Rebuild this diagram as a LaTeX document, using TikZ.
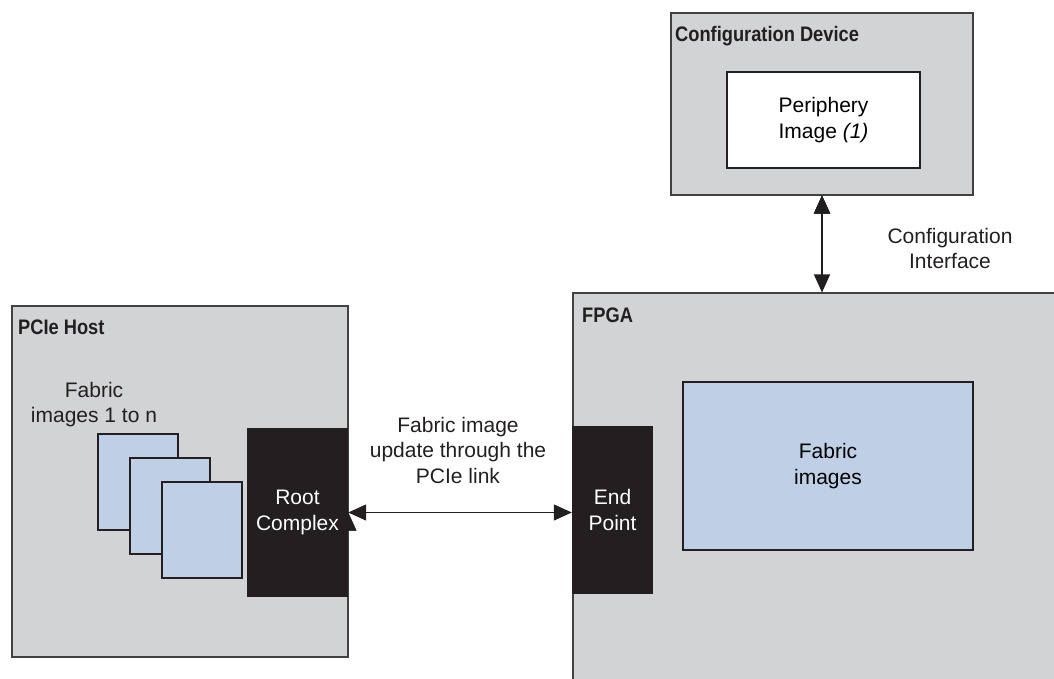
\documentclass[tikz,border=0pt]{standalone}
\usepackage{fontspec}
\setmainfont{Liberation Sans}
\newfontfamily\Htitle[FakeStretch=0.87]{Liberation Sans}
\usepackage{tikz}
\usetikzlibrary{arrows.meta,positioning}
\definecolor{boxgray}{HTML}{D1D3D4}
\definecolor{linegray}{HTML}{414042}
\definecolor{imgblue}{HTML}{BFD0E6}
\definecolor{inkblack}{HTML}{231F20}
\newcommand{\Tsize}{\fontsize{21}{25.5}\selectfont}
\tikzset{
  blk/.style={rectangle,draw=linegray,line width=1.1pt,fill=boxgray,inner sep=0pt},
  img/.style={rectangle,draw=inkblack,line width=1.1pt,fill=imgblue,inner sep=0pt,align=center},
  port/.style={rectangle,draw=none,fill=inkblack,text=white,inner sep=0pt,align=center},
  ttl/.style={anchor=base west,inner sep=0pt,font=\Htitle\bfseries\Tsize,text=inkblack},
  lbl/.style={inner sep=0pt,align=center,text=inkblack},
  dbl/.style={{Triangle[length=18pt,width=16pt]}-{Triangle[length=18pt,width=16pt]},line width=1.3pt,draw=inkblack,fill=inkblack}
}
\begin{document}
\begin{tikzpicture}[x=1pt,y=-1pt,font=\Tsize]
% \draw[help lines] (0,0) grid[step=50] (1054,679);
\useasboundingbox (0,0) rectangle (1054,679);
% configuration device
\node (cfgdev) [blk,minimum width=302pt,minimum height=182pt] at (822,104) {};
\node (cfgttl) [ttl] at (675,42) {Configuration Device};
\node (periph) [img,fill=white,minimum width=193pt,minimum height=96pt] at (823.5,120) {Periphery\\Image \textit{(1)}};
% fpga
{\node (fpga) [blk,minimum width=490pt,minimum height=395pt] at (818,490.5) {};
\node (fpgattl) [ttl] at (582,322) {FPGA};
\node (fabimg) [img,minimum width=290pt,minimum height=168pt] at (828,466) {Fabric\\images};
\node (endpt) [port,minimum width=81pt,minimum height=168pt] at (612.5,510) {End\\Point};}
% pcie host
{\node (host) [blk,minimum width=336pt,minimum height=351pt] at (180,481.5) {};
\node (hostttl) [ttl] at (18,334) {PCIe Host};
\node (imgs) [lbl] at (94,404.5) {Fabric\\images 1 to n};
\node (img1) [img,minimum width=80pt,minimum height=96pt] at (138,482) {};
\node (img2) [img,minimum width=80pt,minimum height=96pt] at (170,506) {};
\node (img3) [img,minimum width=80pt,minimum height=96pt] at (202,530) {};
\node (rootcx) [port,minimum width=101pt,minimum height=169pt] at (297.5,512.5) {Root\\Complex};}
% links
\node (linklbl) [lbl] at (458,450) {Fabric image\\update through the\\PCIe link};
\node (cfglbl) [lbl] at (950,248.5) {Configuration\\Interface};
\path[dbl] (rootcx.east) edge (endpt.west |- rootcx.east);
\path[dbl] (cfgdev.south) edge (cfgdev.south |- fpga.north);
\end{tikzpicture}
\end{document}
